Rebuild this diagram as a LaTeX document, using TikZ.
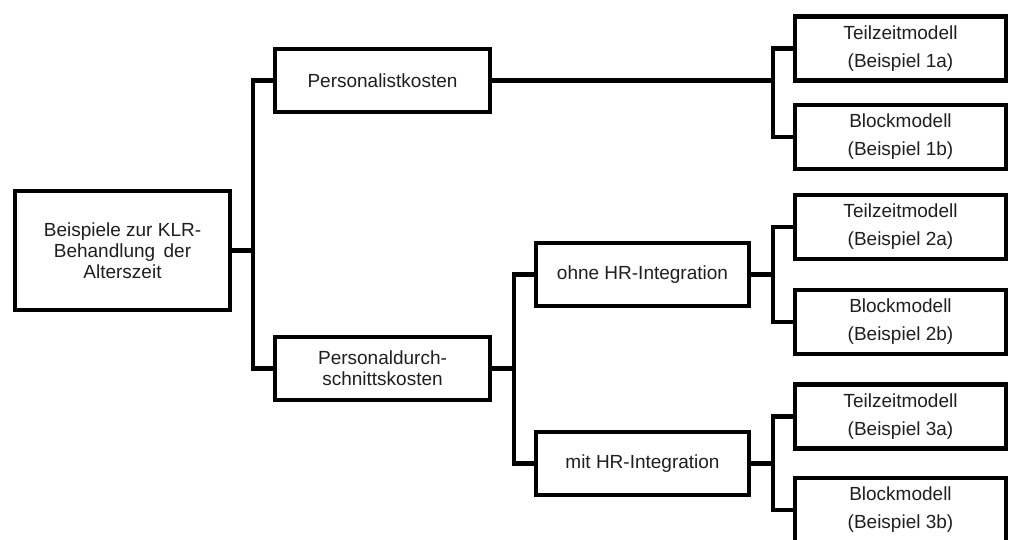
\documentclass[tikz,border=0pt]{standalone}
\usepackage{fontspec}
\setmainfont{Liberation Sans}
\usetikzlibrary{positioning, calc}
\definecolor{InkBlack}{HTML}{000000}
\definecolor{TextDark}{HTML}{1F1F1F}

\begin{document}
\begin{tikzpicture}[x=1pt, y=-1pt,
    box/.style={draw=InkBlack, line width=4.3pt, fill=white, align=center,
                text=TextDark, inner sep=0pt,
                font=\fontsize{19}{21}\selectfont},
    midbox/.style={box, minimum width=215pt, minimum height=63pt},
    leafbox/.style={box, minimum width=211pt, minimum height=64pt,
                font=\fontsize{19}{28}\selectfont},
    link/.style={draw=InkBlack, line width=4.3pt}]
        \useasboundingbox (0,0) rectangle (1010,539);

        % root
        \node[box, minimum width=215pt, minimum height=119pt] (root) at (122.5,250.5)
          {Beispiele zur KLR-\\Behandlung\, der\\Alterszeit};

        % second level
        \node[midbox] (pl) at (382.5,80.5) {Personalistkosten};
        \node[midbox] (pd) at (382.5,368.5) {Personaldurch-\\schnittskosten};

        % third level
        \node[midbox, minimum width=213pt] (ohne) at (642.5,274.5) {ohne HR-Integration};
        \node[midbox, minimum width=213pt] (mit) at (642.5,463.5) {mit HR-Integration};

        % leaves
        \node[leafbox] (l1a) at (900.5,48.5) {Teilzeitmodell\\(Beispiel 1a)};
        \node[leafbox] (l1b) at (900.5,137) {Blockmodell\\(Beispiel 1b)};
        \node[leafbox] (l2a) at (900.5,227) {Teilzeitmodell\\(Beispiel 2a)};
        \node[leafbox] (l2b) at (900.5,322) {Blockmodell\\(Beispiel 2b)};
        \node[leafbox] (l3a) at (900.5,416.5) {Teilzeitmodell\\(Beispiel 3a)};
        \node[leafbox] (l3b) at (900.5,510) {Blockmodell\\(Beispiel 3b)};

        % junctions
        \coordinate (t0) at (253,250.5);
        \coordinate (t1) at (514,368.5);
        \coordinate (j1) at (773,80.5);
        \coordinate (j2) at (773,274.5);
        \coordinate (j3) at (773,463.5);

        \draw[link] (root.east) -- (t0);
        \draw[link] (pl.west) -| (t0) |- (pd.west);
        \draw[link] (pd.east) -- (t1);
        \draw[link] (ohne.west) -| (t1) |- (mit.west);
        \draw[link] (pl.east) -- (j1);
        \draw[link] (l1a.west) -| (j1) |- (l1b.west);
        \draw[link] (ohne.east) -- (j2);
        \draw[link] (l2a.west) -| (j2) |- (l2b.west);
        \draw[link] (mit.east) -- (j3);
        \draw[link] (l3a.west) -| (j3) |- (l3b.west);
      \end{tikzpicture}
\end{document}
